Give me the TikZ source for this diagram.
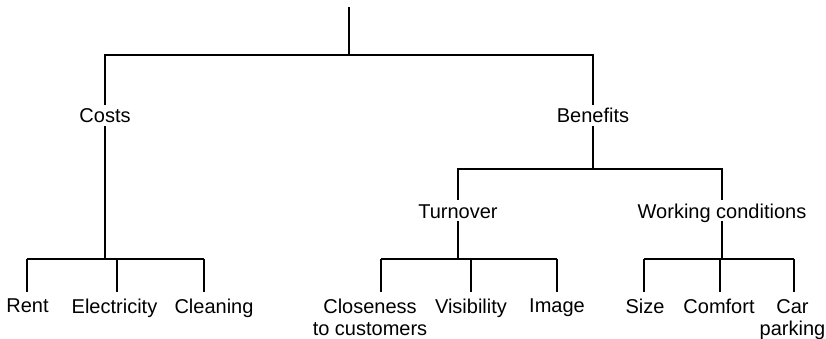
\documentclass[tikz,border=0pt]{standalone}
\usepackage{fontspec}
\setmainfont{Liberation Sans}
\begin{document}
\begin{tikzpicture}[x=1pt,y=-1pt,
  link/.style={line width=1.1pt, draw=black},
  mid/.style={font=\fontsize{20}{22}\selectfont, text height=15pt, text depth=0pt, inner xsep=2pt, inner ysep=3pt, anchor=base},
  leaf/.style={font=\fontsize{20}{22}\selectfont, align=center, inner sep=0pt, anchor=north},
  drop/.style={link, shorten >=7pt}]
\useasboundingbox (0,0) rectangle (826,339);

% upper level
\node[mid] (costs) at (105,123) {Costs};
\node[mid] (benefits) at (593,123) {Benefits};
\node[mid] (turnover) at (458,218) {Turnover};
\node[mid] (wc) at (722,218) {Working conditions};

% leaves
\node[leaf] (rent) at (27.5,299) {Rent};
\node[leaf] (elec) at (114.5,299) {Electricity};
\node[leaf] (clean) at (214,299) {Cleaning};
\node[leaf] (close) at (370,299) {Closeness\\to customers};
\node[leaf] (vis) at (471,299) {Visibility};
\node[leaf] (img) at (557,299) {Image};
\node[leaf] (size) at (645,299) {Size};
\node[leaf] (comfort) at (719,299) {Comfort};
\node[leaf] (car) at (792.5,299) {Car\\parking};

% junction coordinates
\coordinate (top) at (349,7);
\coordinate (rootbar) at (349,55);
\coordinate (cbar) at (105,259);
\coordinate (bbar) at (593,169);
\coordinate (tbar) at (458,259);
\coordinate (wbar) at (722,259);
\coordinate (rentT) at (27,259);
\coordinate (elecT) at (117,259);
\coordinate (cleanT) at (204,259);
\coordinate (closeT) at (381,259);
\coordinate (visT) at (471,259);
\coordinate (imgT) at (557,259);
\coordinate (sizeT) at (644,259);
\coordinate (comfT) at (720,259);
\coordinate (carT) at (794,259);

% root
\draw[link] (top) -- (rootbar);
\draw[link] (costs) |- (rootbar) -| (benefits);

% costs branch
\draw[link] (costs) -- (cbar);
\draw[link] (rentT) -- (cleanT);
\draw[drop] (rentT) -- (rentT |- rent.north);
\draw[drop] (elecT) -- (elecT |- elec.north);
\draw[drop] (cleanT) -- (cleanT |- clean.north);

% benefits branch
\draw[link] (benefits) -- (bbar);
\draw[link] (turnover) |- (bbar) -| (wc);

\draw[link] (turnover) -- (tbar);
\draw[link] (closeT) -- (imgT);
\draw[drop] (closeT) -- (closeT |- close.north);
\draw[drop] (visT) -- (visT |- vis.north);
\draw[drop] (imgT) -- (imgT |- img.north);

\draw[link] (wc) -- (wbar);
\draw[link] (sizeT) -- (carT);
\draw[drop] (sizeT) -- (sizeT |- size.north);
\draw[drop] (comfT) -- (comfT |- comfort.north);
\draw[drop] (carT) -- (carT |- car.north);
\end{tikzpicture}
\end{document}
